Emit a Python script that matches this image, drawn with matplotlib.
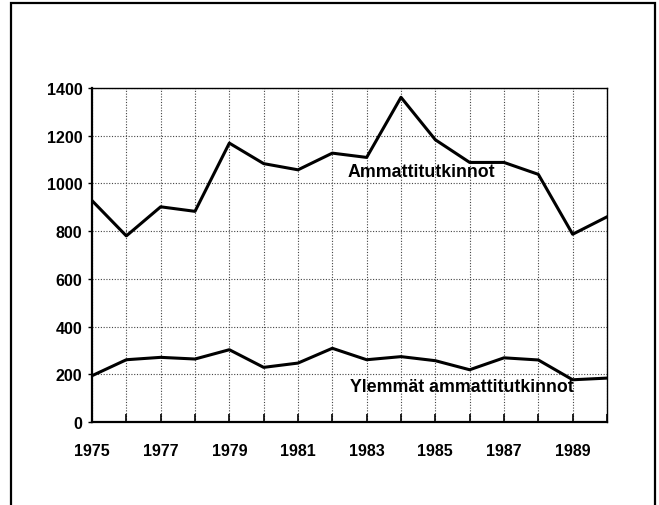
import matplotlib
matplotlib.use('Agg')
import matplotlib.pyplot as plt
from matplotlib.patches import Rectangle

plt.rcParams['font.family'] = ['Liberation Sans', 'DejaVu Sans']

years = list(range(1975, 1991))
ammatti = [928, 780, 902, 883, 1169, 1083, 1057, 1127, 1109, 1361, 1183, 1088, 1088, 1038, 787, 860]
ylemmat = [194, 261, 271, 264, 303, 229, 247, 309, 261, 274, 257, 219, 269, 260, 177, 184]
year_labels = [str(y) if y % 2 == 1 else '' for y in years]

fig = plt.figure(figsize=(6.59, 5.06), dpi=100)

# outer frame
fig.patches.append(Rectangle((11 / 659, -0.01), (655 - 11) / 659, 1 - 4 / 506 + 0.01,
                             transform=fig.transFigure, fill=False,
                             edgecolor='black', linewidth=1.6))

ax = fig.add_axes([92 / 659, 1 - 423 / 506, (607 - 92) / 659, (423 - 89) / 506])
ax.plot(years, ammatti, color='black', linewidth=2.2)
ax.plot(years, ylemmat, color='black', linewidth=2.2)

ax.set_xlim(1975, 1990)
ax.set_ylim(0, 1400)
ax.set_xticks(years)
ax.set_xticklabels(year_labels)
ax.set_yticks(range(0, 1401, 200))
ax.grid(True, color='#444444', linestyle=(0, (1, 1.5)), linewidth=0.8)

ax.tick_params(axis='x', direction='in', length=6, width=1.2, pad=15, labelsize=11.5)
ax.tick_params(axis='y', direction='out', length=3, width=1.0, pad=4, labelsize=11.5)
for lab in ax.get_xticklabels() + ax.get_yticklabels():
    lab.set_fontweight('bold')

for side in ['left', 'bottom']:
    ax.spines[side].set_linewidth(1.6)
for side in ['top', 'right']:
    ax.spines[side].set_linewidth(1.0)

ax.text(1982.45, 1048, 'Ammattitutkinnot', fontsize=12.8, fontweight='bold',
        va='center', ha='left')
ax.text(1982.5, 147, 'Ylemmät ammattitutkinnot', fontsize=12.8, fontweight='bold',
        va='center', ha='left')

fig.savefig('out.png', dpi=100)
